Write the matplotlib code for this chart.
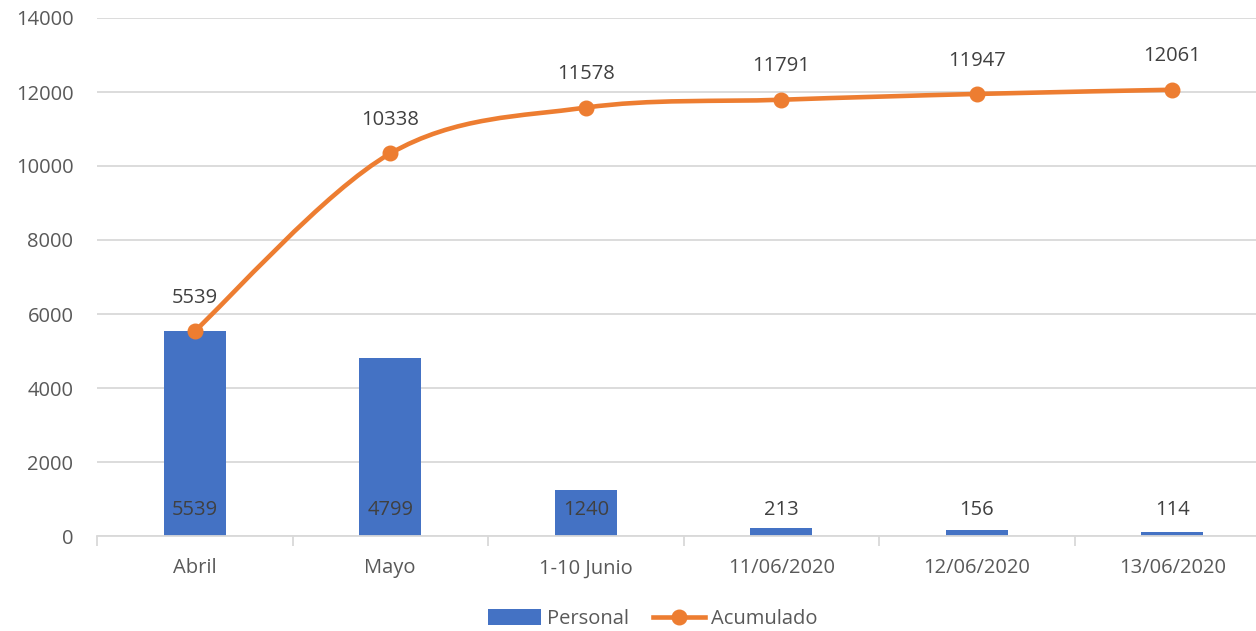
import matplotlib.pyplot as plt
import numpy as np
from matplotlib.path import Path
from matplotlib.patches import PathPatch
from matplotlib.lines import Line2D
from matplotlib.patches import Patch

plt.rcParams['font.family'] = ['Open Sans', 'DejaVu Sans']

categorias = ["Abril", "Mayo", "1-10 Junio", "11/06/2020", "12/06/2020", "13/06/2020"]
personal = [5539, 4799, 1240, 213, 156, 114]
acumulado = [5539, 10338, 11578, 11791, 11947, 12061]

AZUL = "#4472C4"
NARANJA = "#ED7D31"
GRIS_TXT = "#595959"
GRIS_LBL = "#404040"
GRIS_GRID = "#D9D9D9"
FS = 14.5


def smooth_path(xs, ys, tension=1 / 6):
    """Courbe lissée façon Excel (Catmull-Rom -> Bézier cubique)."""
    pts = np.column_stack([xs, ys]).astype(float)
    n = len(pts)
    verts = [pts[0]]
    codes = [Path.MOVETO]
    for i in range(n - 1):
        p0 = pts[i - 1] if i > 0 else pts[i]
        p1 = pts[i]
        p2 = pts[i + 1]
        p3 = pts[i + 2] if i + 2 < n else pts[i + 1]
        c1 = p1 + (p2 - p0) * tension
        c2 = p2 - (p3 - p1) * tension
        verts += [c1, c2, p2]
        codes += [Path.CURVE4] * 3
    return Path(verts, codes)


fig = plt.figure(figsize=(12.56, 6.31), dpi=100)
ax = fig.add_axes([97 / 1256, 95 / 631, 1173 / 1256, 518 / 631])

x = np.arange(len(categorias))
ax.bar(x, personal, width=0.317, color=AZUL, zorder=2)

# la forme Bézier est invariante par transformation affine -> coords données ok
ax.add_patch(PathPatch(smooth_path(x, acumulado), facecolor="none",
                       edgecolor=NARANJA, lw=3.3, capstyle="round", zorder=3))
ax.plot(x, acumulado, linestyle="none", marker="o", markersize=10.5,
        color=NARANJA, zorder=4)

for xi, v in zip(x, personal):
    ax.annotate(f"{v}", (xi, 0), xytext=(0, 18.5), textcoords="offset points",
                ha="center", va="center", fontsize=FS, color=GRIS_LBL, zorder=5)
for xi, v in zip(x, acumulado):
    ax.annotate(f"{v}", (xi, v), xytext=(0, 24), textcoords="offset points",
                ha="center", va="center", fontsize=FS, color=GRIS_LBL, zorder=5)

ax.set_xlim(-0.5, len(categorias) - 0.5)
ax.set_ylim(0, 14000)
ax.set_yticks(range(0, 14001, 2000))
ax.set_xticks(x)
ax.set_xticklabels(categorias)
ax.set_xticks(np.arange(-0.5, len(categorias), 1), minor=True)

ax.grid(axis="y", color=GRIS_GRID, lw=1.3, zorder=0)
ax.set_axisbelow(True)
for s in ["top", "right", "left"]:
    ax.spines[s].set_visible(False)
ax.spines["bottom"].set_color(GRIS_GRID)
ax.spines["bottom"].set_linewidth(1.3)

ax.tick_params(axis="y", length=0, pad=17, labelsize=FS, labelcolor=GRIS_TXT)
ax.tick_params(axis="x", which="major", length=0, pad=16, labelsize=FS, labelcolor=GRIS_TXT)
ax.tick_params(axis="x", which="minor", length=7, width=1.3, color=GRIS_GRID)

handles = [
    Patch(facecolor=AZUL, label="Personal"),
    Line2D([0], [0], color=NARANJA, lw=3.3, marker="o", markersize=10.5, label="Acumulado"),
]
fig.legend(handles=handles, loc="center", bbox_to_anchor=(653 / 1256, 1 - 619 / 631),
           ncol=2, frameon=False, fontsize=FS, labelcolor=GRIS_TXT,
           handlelength=2.6, handleheight=0.8, handletextpad=0.3, columnspacing=1.2)

fig.savefig("out.png", dpi=100)
